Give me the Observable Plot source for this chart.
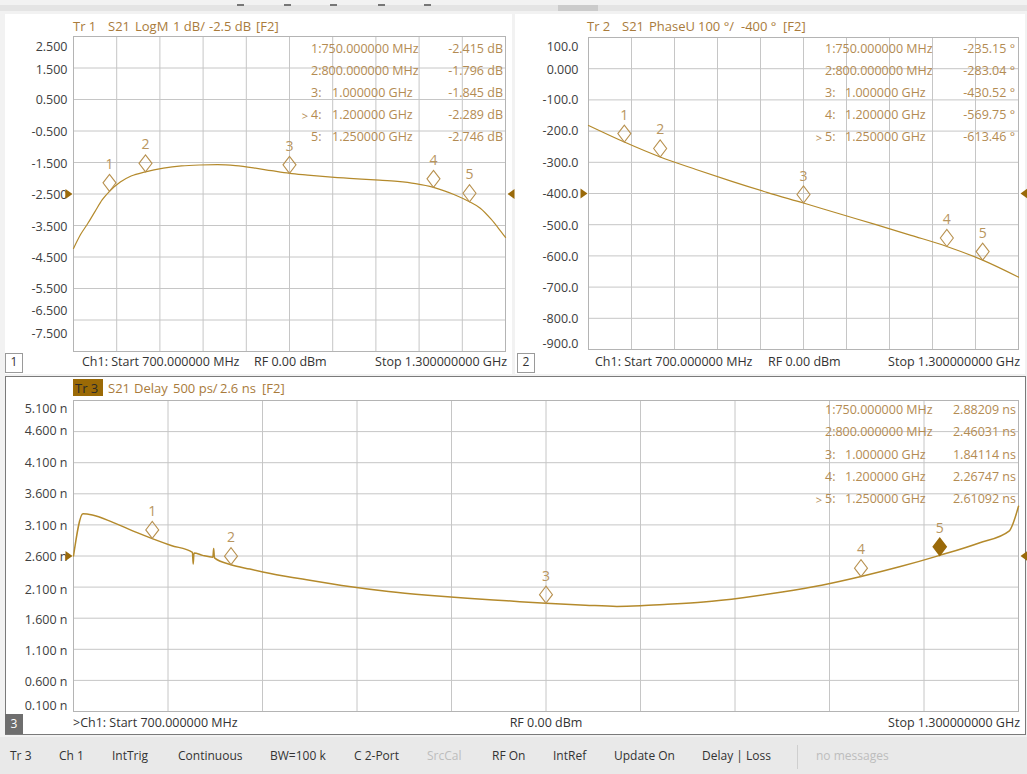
<!DOCTYPE html>
<html><head><meta charset="utf-8">
<script src="https://cdn.jsdelivr.net/npm/d3@7"></script>
<script src="https://cdn.jsdelivr.net/npm/@observablehq/plot@0.6"></script>
<style>
html,body{margin:0;padding:0;}
body{width:1027px;height:774px;background:#f2f2f2;position:relative;overflow:hidden;font-family:"Open Sans",sans-serif;}
.abs{position:absolute;white-space:pre;line-height:1;}
.box{position:absolute;}
svg{overflow:visible;}
</style></head><body>
<script>
// ---------------- DATA ----------------
const freqDomain = [700, 1300];
const gridFreqs = [700, 760, 820, 880, 940, 1000, 1060, 1120, 1180, 1240, 1300];
const markerIds = ["1", "2", "3", "4", "5"];
const markerFreqs = [750, 800, 1000, 1200, 1250];
const markerFreqText = ["750.000000 MHz", "800.000000 MHz", "1.000000 GHz", "1.200000 GHz", "1.250000 GHz"];

// Tr 1 : S21 LogM
const logmFreq = [700, 710, 720, 730, 740, 750, 765, 780, 800, 825, 850, 875, 900, 925, 950, 975, 1000, 1025, 1050, 1075, 1100, 1125, 1150, 1175, 1200, 1215, 1230, 1250, 1265, 1280, 1290, 1300];
const logmDb   = [-4.23, -3.78, -3.43, -3.05, -2.68, -2.415, -2.12, -1.93, -1.796, -1.68, -1.61, -1.58, -1.57, -1.60, -1.67, -1.76, -1.845, -1.90, -1.95, -1.99, -2.03, -2.06, -2.10, -2.17, -2.289, -2.40, -2.53, -2.746, -2.95, -3.30, -3.58, -3.88];
const logmMarkerVals = [-2.415, -1.796, -1.845, -2.289, -2.746];
const logmMarkerText = ["-2.415 dB", "-1.796 dB", "-1.845 dB", "-2.289 dB", "-2.746 dB"];
const logmTicks = [2.5, 1.5, 0.5, -0.5, -1.5, -2.5, -3.5, -4.5, -5.5, -6.5, -7.5];
const logmTickLabels = ["2.500", "1.500", "0.500", "-0.500", "-1.500", "-2.500", "-3.500", "-4.500", "-5.500", "-6.500", "-7.500"];
const logmRef = -2.5;

// Tr 2 : S21 PhaseU
const phaseFreq = [700, 750, 800, 850, 900, 950, 1000, 1050, 1100, 1150, 1200, 1250, 1300];
const phaseDeg  = [-182, -235.15, -283.04, -323, -361, -397, -430.52, -465, -499, -534, -569.75, -613.46, -668];
const phaseMarkerVals = [-235.15, -283.04, -430.52, -569.75, -613.46];
const phaseMarkerText = ["-235.15 °", "-283.04 °", "-430.52 °", "-569.75 °", "-613.46 °"];
const phaseTicks = [100, 0, -100, -200, -300, -400, -500, -600, -700, -800, -900];
const phaseTickLabels = ["100.0", "0.000", "-100.0", "-200.0", "-300.0", "-400.0", "-500.0", "-600.0", "-700.0", "-800.0", "-900.0"];
const phaseRef = -400;

// Tr 3 : S21 Delay (ns)
const delayFreq = [700, 706, 712, 725, 740, 750, 762, 775.5, 776, 776.5, 782, 788.5, 789, 789.5, 800, 812, 825, 850, 875, 900, 925, 950, 975, 1000, 1025, 1045, 1060, 1075, 1100, 1125, 1150, 1175, 1200, 1225, 1250, 1275, 1294, 1300];
const delayNs   = [2.60, 3.28, 3.26, 3.14, 2.98, 2.88, 2.77, 2.66, 2.47, 2.65, 2.61, 2.58, 2.72, 2.57, 2.46, 2.39, 2.32, 2.21, 2.11, 2.03, 1.97, 1.92, 1.88, 1.84, 1.81, 1.79, 1.80, 1.82, 1.86, 1.93, 2.02, 2.13, 2.27, 2.43, 2.61, 2.81, 3.00, 3.40];
const delayMarkerVals = [2.88209, 2.46031, 1.84114, 2.26747, 2.61092];
const delayMarkerText = ["2.88209 ns", "2.46031 ns", "1.84114 ns", "2.26747 ns", "2.61092 ns"];
const delayTicks = [5.1, 4.6, 4.1, 3.6, 3.1, 2.6, 2.1, 1.6, 1.1, 0.6, 0.1];
const delayTickLabels = ["5.100 n", "4.600 n", "4.100 n", "3.600 n", "3.100 n", "2.600 n", "2.100 n", "1.600 n", "1.100 n", "0.600 n", "0.100 n"];
const delayRef = 2.6;

const statusItems = ["Tr 3", "Ch 1", "IntTrig", "Continuous", "BW=100 k", "C 2-Port", "SrcCal", "RF On", "IntRef", "Update On", "Delay | Loss", "no messages"];

// ---------------- STYLE / LAYOUT ----------------
const GOLD_TXT = "#a97b3b";
const GOLD_TBL = "#b38b52";
const TRACE = "#b48a2c";
const MARK = "#b8914f";
const DARKGOLD = "#9a6a0a";
const LABEL = "#404040";

function div(cls, x, y, w, h, style) {
  const d = document.createElement("div");
  d.className = cls;
  Object.assign(d.style, {left: x + "px", top: y + "px", width: w + "px", height: h + "px"}, style || {});
  document.body.appendChild(d);
  return d;
}
function txt(x, y, s, o = {}) {
  const d = document.createElement("div");
  d.className = "abs";
  d.textContent = s;
  const tx = o.anchor === "end" ? "-100%" : o.anchor === "middle" ? "-50%" : "0";
  Object.assign(d.style, {left: x + "px", top: y + "px", transform: `translate(${tx},-50%)`,
    color: o.color || "#333", fontSize: (o.size || 12.5) + "px"}, o.style || {});
  document.body.appendChild(d);
  return d;
}

// diamond marker, bottom tip at the data point
const diamond = {draw(c) { c.moveTo(0, 0); c.lineTo(-6.5, -8.5); c.lineTo(0, -17); c.lineTo(6.5, -8.5); c.closePath(); }};
const arrowR = {draw(c) { c.moveTo(-8, -5); c.lineTo(-1, 0); c.lineTo(-8, 5); c.closePath(); }};
const arrowL = {draw(c) { c.moveTo(9, -5); c.lineTo(2, 0); c.lineTo(9, 5); c.closePath(); }};

function panelPlot(cfg) {
  const ticksMarks = cfg.ticks.map((t, i) => Plot.axisY([t], {
    tickSize: 0, tickPadding: cfg.pad, dy: cfg.dys[i],
    tickFormat: () => cfg.tickLabels[i], fill: LABEL, fontSize: 12.5
  }));
  const idx = d3.range(cfg.markerVals.length);
  const marks = [
    Plot.gridX(gridFreqs, {stroke: "#c6c6c6", strokeOpacity: 1}),
    Plot.gridY(cfg.ticks, {stroke: "#c6c6c6", strokeOpacity: 1}),
    Plot.frame({stroke: "#b4b4b4"}),
    ...ticksMarks,
    Plot.line(cfg.ys, {x: cfg.xs, y: d => d, stroke: TRACE, strokeWidth: cfg.sw || 1.2, curve: "monotone-x"}),
    Plot.dot(idx.filter(i => i !== cfg.filled), {x: i => markerFreqs[i], y: i => cfg.markerVals[i], symbol: diamond, stroke: MARK, strokeWidth: 1.1, fill: "none"}),
    Plot.text(idx, {x: i => markerFreqs[i], y: i => cfg.markerVals[i], text: i => markerIds[i], dy: -27, fill: "#b8955e", fontSize: 14}),
    Plot.dot([cfg.ref], {x: () => freqDomain[0], y: d => d, symbol: arrowR, fill: DARKGOLD, stroke: "none"}),
    Plot.dot([cfg.ref], {x: () => freqDomain[1], y: d => d, symbol: arrowL, fill: DARKGOLD, stroke: "none"})
  ];
  if (cfg.filled != null) {
    marks.push(Plot.dot([cfg.filled], {x: i => markerFreqs[i], y: i => cfg.markerVals[i], symbol: diamond, stroke: DARKGOLD, fill: DARKGOLD}));
  }
  const p = Plot.plot({
    width: cfg.w, height: cfg.h,
    marginLeft: cfg.ml, marginRight: cfg.mr, marginTop: cfg.mt, marginBottom: cfg.mb,
    x: {domain: freqDomain, axis: null},
    y: {domain: cfg.ydomain, axis: null},
    style: {background: "transparent", fontFamily: "Open Sans", fontSize: "12.5px", color: LABEL, overflow: "visible"},
    marks
  });
  Object.assign(p.style, {position: "absolute", left: cfg.x + "px", top: cfg.y + "px"});
  document.body.appendChild(p);
}

// ---------- chrome ----------
div("box", 0, 5, 1027, 6, {background: "#e4e4e4"});
div("box", 558, 5, 40, 6, {background: "#cbcbcb"});
[237, 284, 330, 378, 424].forEach(x => div("box", x, 4, 7, 1.5, {background: "#777"}));

div("box", 5, 14, 507, 360, {background: "#fff"});
div("box", 515, 14, 510, 360, {background: "#fff"});
div("box", 5, 376, 1019, 357, {background: "#fff", border: "1px solid #7a7a7a"});
div("box", 0, 737, 1027, 37, {background: "#e9e9e9"});

// ---------- panel 1 ----------
panelPlot({x: 5, y: 14, w: 507, h: 360, ml: 68, mr: 7, mt: 22, mb: 23, pad: 6,
  ydomain: [-7.5, 2.5], ticks: logmTicks, tickLabels: logmTickLabels,
  dys: [10, 1.5, 0.5, 0.5, 1, 0.5, 1, 0.5, 0, -9.5, -18],
  xs: logmFreq, ys: logmDb, markerVals: logmMarkerVals, ref: logmRef, filled: null});

// ---------- panel 2 ----------
panelPlot({x: 515, y: 14, w: 510, h: 360, ml: 73, mr: 7, mt: 23, mb: 25, pad: 10,
  ydomain: [-900, 100], ticks: phaseTicks, tickLabels: phaseTickLabels,
  dys: [9, 1, 0, 0, 1, 0, 1, 1, 1, 1, -6],
  xs: phaseFreq, ys: phaseDeg, markerVals: phaseMarkerVals, ref: phaseRef, filled: null});

// ---------- panel 3 ----------
panelPlot({x: 5, y: 377, w: 1020, h: 356, ml: 68, mr: 7, mt: 23, mb: 22, pad: 6,
  ydomain: [0.1, 5.1], ticks: delayTicks, tickLabels: delayTickLabels,
  dys: [8, -0.5, 0, 0, 1, 1, 2.5, 2, 2, 2, -6],
  xs: delayFreq, ys: delayNs, markerVals: delayMarkerVals, ref: delayRef, filled: 4, sw: 1.5});

// ---------- headers ----------
const hdr1 = [[73, "Tr 1"], [108, "S21"], [135, "LogM"], [173, "1 dB/"], [209, "-2.5 dB"], [256, "[F2]"]];
hdr1.forEach(([x, s]) => txt(x, 26, s, {color: GOLD_TXT, size: 13}));
const hdr2 = [[587, "Tr 2"], [622, "S21"], [649, "PhaseU"], [698, "100 °/"], [741, "-400 °"], [783, "[F2]"]];
hdr2.forEach(([x, s]) => txt(x, 26, s, {color: GOLD_TXT, size: 13}));
div("box", 73, 379, 30, 17, {background: "#9b6a06"});
txt(75, 388, "Tr 3", {color: "#2a2a2a", size: 13});
const hdr3 = [[108, "S21"], [134, "Delay"], [173, "500 ps/"], [220, "2.6 ns"], [262, "[F2]"]];
hdr3.forEach(([x, s]) => txt(x, 388, s, {color: GOLD_TXT, size: 13}));

// ---------- marker tables ----------
function table(rowsY, idX, freqX, valRight, texts, active) {
  markerIds.forEach((id, i) => {
    const y = rowsY[i];
    if (markerFreqText[i].endsWith("MHz")) {
      txt(idX, y, id + ":" + markerFreqText[i], {color: GOLD_TBL});
    } else {
      txt(idX, y, id + ":", {color: GOLD_TBL});
      txt(freqX, y, markerFreqText[i], {color: GOLD_TBL});
    }
    if (i === active) txt(idX - 3, y, ">", {anchor: "end", color: GOLD_TBL, size: 11});
    txt(valRight, y, texts[i], {anchor: "end", color: GOLD_TBL});
  });
}
table([49, 71, 93, 115, 137], 311, 332, 503, logmMarkerText, 3);
table([49, 71, 93, 115, 137], 825, 845, 1015, phaseMarkerText, 4);
table([410, 432, 455, 477, 499], 825, 845, 1016, delayMarkerText, 4);

// ---------- footers ----------
txt(82, 362, "Ch1: Start 700.000000 MHz");
txt(254, 362, "RF 0.00 dBm");
txt(507, 362, "Stop 1.300000000 GHz", {anchor: "end"});
txt(595, 362, "Ch1: Start 700.000000 MHz");
txt(768, 362, "RF 0.00 dBm");
txt(1020, 362, "Stop 1.300000000 GHz", {anchor: "end"});
txt(73, 723, ">Ch1: Start 700.000000 MHz");
txt(546, 723, "RF 0.00 dBm", {anchor: "middle"});
txt(1020, 723, "Stop 1.300000000 GHz", {anchor: "end"});

// panel number boxes
div("box", 5, 353, 16, 18, {background: "#fff", border: "1px solid #9a9a9a"});
txt(14, 362, "1", {anchor: "middle", size: 12});
div("box", 517, 353, 16, 18, {background: "#fff", border: "1px solid #9a9a9a"});
txt(526, 362, "2", {anchor: "middle", size: 12});
div("box", 5, 714, 18, 20, {background: "#6e6e6e"});
txt(14, 724, "3", {anchor: "middle", size: 12, color: "#fff"});

// ---------- status bar ----------
const statusX = [10, 59, 112, 178, 270, 354, 427, 492, 553, 614, 702, 816];
statusItems.forEach((s, i) => {
  const dim = s === "SrcCal" || s === "no messages";
  txt(statusX[i], 756, s, {size: 12, color: dim ? "#bdbdbd" : "#333"});
});
div("box", 797, 745, 1, 24, {background: "#cfcfcf"});
</script>
</body></html>
